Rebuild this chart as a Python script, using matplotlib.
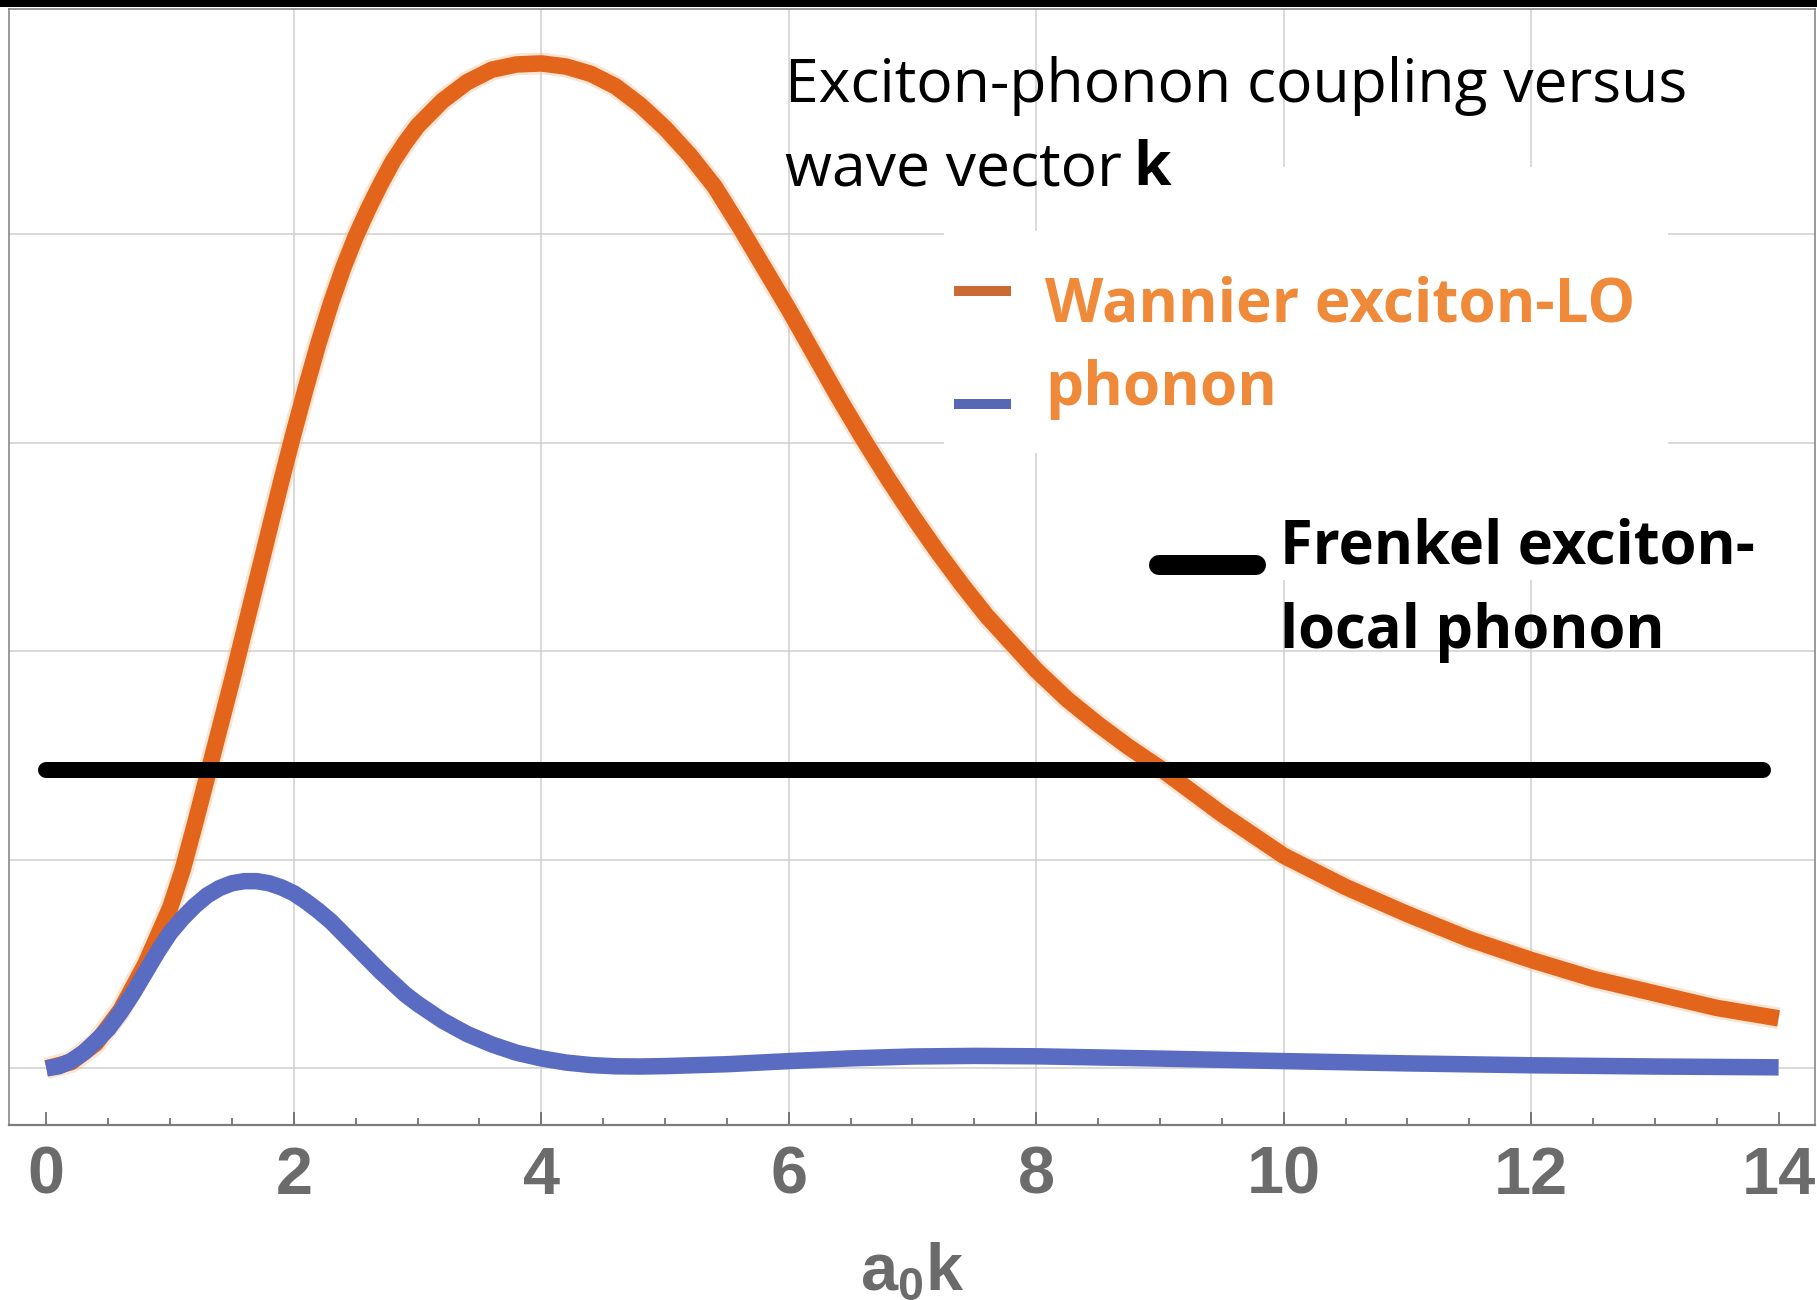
import matplotlib
matplotlib.use("Agg")
import matplotlib.pyplot as plt
from matplotlib.patches import Rectangle
from matplotlib.lines import Line2D
from matplotlib.ticker import MultipleLocator

# ---------------- data ----------------
wannier_x = [0.0, 0.2, 0.4, 0.6, 0.8, 1.0, 1.1, 1.2, 1.3, 1.4, 1.5, 1.6, 1.7, 1.8, 1.9,
             2.0, 2.1, 2.2, 2.3, 2.4, 2.5, 2.6, 2.7, 2.8, 2.9, 3.0, 3.2, 3.4, 3.6, 3.8,
             4.0, 4.2, 4.4, 4.6, 4.8, 5.0, 5.2, 5.4, 5.6, 5.8, 6.0, 6.2, 6.4, 6.6, 6.8,
             7.0, 7.2, 7.4, 7.6, 7.8, 8.0, 8.25, 8.5, 8.75, 9.0, 9.5, 10.0, 10.5, 11.0,
             11.5, 12.0, 12.5, 13.0, 13.5, 14.0]
wannier_y = [0.0, 0.03, 0.12, 0.28, 0.50, 0.77, 0.95, 1.17, 1.40, 1.63, 1.86, 2.10, 2.34,
             2.58, 2.82, 3.05, 3.27, 3.48, 3.67, 3.84, 3.99, 4.12, 4.24, 4.35, 4.44, 4.52,
             4.64, 4.73, 4.79, 4.815, 4.82, 4.805, 4.77, 4.71, 4.62, 4.51, 4.38, 4.23,
             4.04, 3.84, 3.64, 3.43, 3.22, 3.02, 2.83, 2.65, 2.48, 2.32, 2.17, 2.04, 1.91,
             1.77, 1.65, 1.54, 1.44, 1.22, 1.02, 0.87, 0.74, 0.62, 0.52, 0.43, 0.36, 0.29,
             0.24]

blue_x = [0.0, 0.1, 0.2, 0.3, 0.4, 0.5, 0.6, 0.7, 0.8, 0.9, 1.0, 1.1, 1.2, 1.3, 1.4,
          1.5, 1.6, 1.7, 1.8, 1.9, 2.0, 2.1, 2.2, 2.3, 2.4, 2.5, 2.6, 2.7, 2.8, 2.9,
          3.0, 3.2, 3.4, 3.6, 3.8, 4.0, 4.2, 4.4, 4.6, 4.8, 5.0, 5.5, 6.0, 6.5, 7.0,
          7.5, 8.0, 9.0, 10.0, 11.0, 12.0, 13.0, 14.0]
blue_y = [0.0, 0.01, 0.035, 0.075, 0.13, 0.19, 0.27, 0.36, 0.46, 0.56, 0.65, 0.72, 0.78,
          0.83, 0.865, 0.888, 0.898, 0.898, 0.888, 0.868, 0.84, 0.80, 0.755, 0.705, 0.645,
          0.585, 0.525, 0.465, 0.41, 0.355, 0.31, 0.23, 0.165, 0.115, 0.075, 0.048, 0.028,
          0.016, 0.010, 0.009, 0.011, 0.02, 0.035, 0.048, 0.057, 0.06, 0.058, 0.047, 0.035,
          0.024, 0.015, 0.009, 0.005]

frenkel_x = [0.0, 13.87]
frenkel_y = [1.43, 1.43]

xticks = [0, 2, 4, 6, 8, 10, 12, 14]
xtick_labels = ["0", "2", "4", "6", "8", "10", "12", "14"]
grid_x = [2, 4, 6, 8, 10, 12]
grid_y = [0, 1, 2, 3, 4]

title_line1 = "Exciton-phonon coupling versus"
title_line2 = "wave vector"
title_bold = "k"
legend_wannier = ["Wannier exciton-LO", "phonon"]
legend_frenkel = ["Frenkel exciton-", "local phonon"]
xlabel = r"$\mathsf{a_0k}$"

# ---------------- styling ----------------
W, H = 1817, 1300
plt.rcParams["mathtext.fontset"] = "custom"
plt.rcParams["mathtext.sf"] = "Liberation Sans:bold"
plt.rcParams["mathtext.rm"] = "Liberation Sans"

ORANGE = "#e2651b"
BLUE = "#5a6cc1"
GRAY = "#6b6b6b"
GRID = "#cfcfcf"
SPINE = "#7c7c7c"
PT = 0.72  # points per pixel at dpi 100


def fx(x):
    return x / W


def fy(y):
    return 1 - y / H


fig = plt.figure(figsize=(W / 100, H / 100), dpi=100)
fig.patch.set_facecolor("white")
ax = fig.add_axes([fx(9), fy(1125), (1815 - 9) / W, (1125 - 9) / H])
ax.set_xlim(-0.302, 14.294)
ax.set_ylim(-0.2715, 5.081)

for gx in grid_x:
    ax.axvline(gx, color=GRID, lw=1.5 * PT, zorder=0.5)
for gy in grid_y:
    ax.axhline(gy, color=GRID, lw=1.5 * PT, zorder=0.5)

# white patches of the pasted legend boxes (hide grid lines)
for (x0, y0, x1, y1) in [(944, 231, 1668, 453), (1180, 167, 1668, 231), (1140, 450, 1780, 580)]:
    ax.add_patch(Rectangle((fx(x0), fy(y1)), (x1 - x0) / W, (y1 - y0) / H,
                           transform=fig.transFigure, facecolor="white",
                           edgecolor="none", zorder=1.0))

# curves
ax.plot(wannier_x, wannier_y, color="#f6b684", lw=22 * PT, alpha=0.35,
        solid_capstyle="butt", solid_joinstyle="round", zorder=2)
ax.plot(wannier_x, wannier_y, color=ORANGE, lw=16.5 * PT,
        solid_capstyle="butt", solid_joinstyle="round", zorder=3)
ax.plot(blue_x, blue_y, color=BLUE, lw=16.5 * PT,
        solid_capstyle="butt", solid_joinstyle="round", zorder=4)
ax.plot(frenkel_x, frenkel_y, color="black", lw=16 * PT,
        solid_capstyle="round", zorder=5)

# axes styling
for s in ax.spines.values():
    s.set_color(SPINE)
    s.set_linewidth(1.5 * PT)
ax.spines["bottom"].set_linewidth(2.2 * PT)
ax.set_xticks(xticks)
ax.set_xticklabels(xtick_labels, fontfamily="Liberation Sans", fontweight="bold",
                   fontsize=48, color=GRAY)
ax.xaxis.set_minor_locator(MultipleLocator(0.5))
ax.tick_params(axis="x", which="major", direction="in", length=13 * PT,
               width=1.5 * PT, color="#555555", pad=15)
ax.tick_params(axis="x", which="minor", direction="in", length=7 * PT,
               width=1.5 * PT, color="#555555")
ax.set_yticks([])
ax.tick_params(axis="y", length=0)

# x label
fig.text(fx(912), fy(1289), xlabel, fontsize=48, color=GRAY, ha="center", va="baseline")

renderer = fig.canvas.get_renderer()


def fit(t, target_w):
    w = t.get_window_extent(renderer).width
    t.set_fontsize(t.get_fontsize() * target_w / w)
    return t.get_fontsize()


# title
t1 = fig.text(fx(785), fy(102), title_line1, fontfamily="Open Sans", fontsize=44,
              color="black", ha="left", va="baseline")
fs = fit(t1, 903)
t2 = fig.text(fx(785), fy(185), title_line2, fontfamily="Open Sans", fontsize=fs,
              color="black", ha="left", va="baseline")
e2 = t2.get_window_extent(renderer)
fig.text(fx(e2.x1 + 11), fy(185), title_bold, fontfamily="Open Sans", fontweight="bold",
         fontsize=fs, color="black", ha="left", va="baseline")

# Wannier legend
lw1 = fig.text(fx(1045), fy(321), legend_wannier[0], fontfamily="Open Sans",
               fontweight="bold", fontsize=44, color="#ef8a3a", ha="left", va="baseline")
fs2 = fit(lw1, 591)
fig.text(fx(1045), fy(405), legend_wannier[1], fontfamily="Open Sans",
         fontweight="bold", fontsize=fs2, color="#ef8a3a", ha="left", va="baseline")
fig.add_artist(Line2D([fx(954), fx(1011)], [fy(291), fy(291)], transform=fig.transFigure,
                      color="#c96b33", lw=10 * PT, solid_capstyle="butt"))
fig.add_artist(Line2D([fx(954), fx(1011)], [fy(404), fy(404)], transform=fig.transFigure,
                      color="#5867b5", lw=10 * PT, solid_capstyle="butt"))

# Frenkel legend
lf1 = fig.text(fx(1280), fy(564), legend_frenkel[0], fontfamily="Open Sans",
               fontweight="bold", fontsize=44, color="black", ha="left", va="baseline")
fs3 = fit(lf1, 476)
fig.text(fx(1280), fy(648), legend_frenkel[1], fontfamily="Open Sans",
         fontweight="bold", fontsize=fs3, color="black", ha="left", va="baseline")
fig.add_artist(Line2D([fx(1159), fx(1256)], [fy(565), fy(565)], transform=fig.transFigure,
                      color="black", lw=20 * PT, solid_capstyle="round"))

# black band on top of the image
fig.add_artist(Rectangle((0, fy(7)), 1, 7 / H, transform=fig.transFigure,
                         facecolor="black", edgecolor="none", zorder=10))

fig.savefig("out.png", dpi=100, facecolor="white")
